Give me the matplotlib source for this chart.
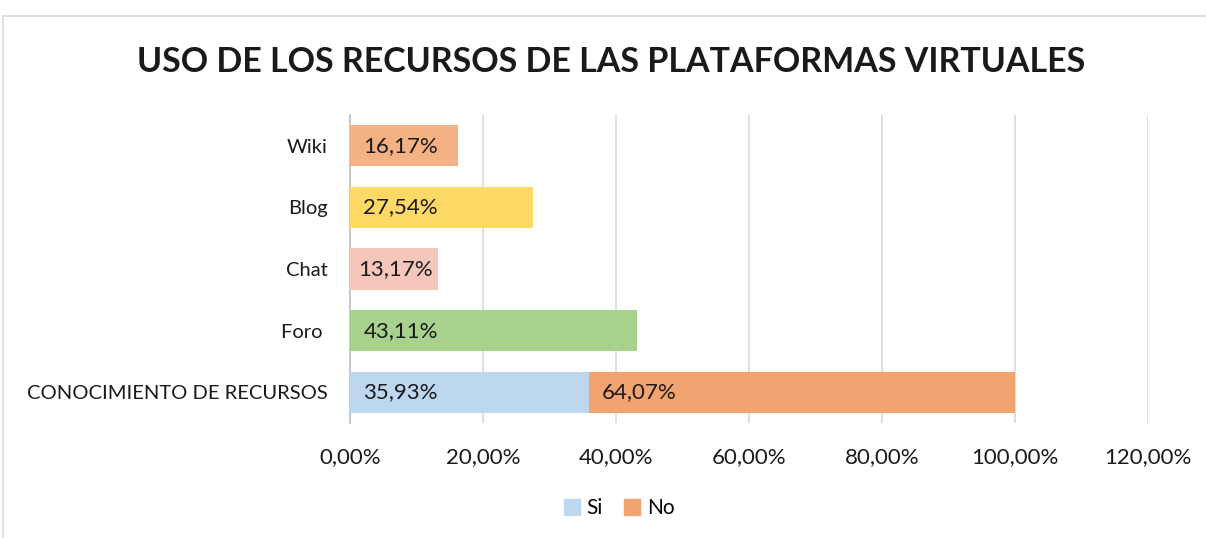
import numpy as np
import matplotlib; matplotlib.use('Agg')
import matplotlib.pyplot as plt
from matplotlib.patches import Rectangle
from matplotlib.ticker import FuncFormatter

plt.rcParams['font.family'] = ['Lato', 'DejaVu Sans']

# data (bottom -> top)
cats = ['CONOCIMIENTO DE RECURSOS', 'Foro ', 'Chat', 'Blog', 'Wiki']
si_vals = [35.93, 43.11, 13.17, 27.54, 16.17]
no_vals = [64.07, 0, 0, 0, 0]
si_cols = ['#BDD7EE', '#A9D18E', '#F5C7BA', '#FFD966', '#F4B183']
no_col = '#F1A46F'
si_lbl_col = '#BDD7EE'

fig = plt.figure(figsize=(12.06, 5.38), dpi=100)
fig.patch.set_facecolor('white')
# outer chart frame
fig.add_artist(Rectangle((3/1206, -0.01), 1.0, 1 - 16/538 + 0.01, transform=fig.transFigure,
                         fill=False, edgecolor='#D9D9D9', lw=1.2))

ax = fig.add_axes([350/1206, 1 - 423/538, (1148 - 350)/1206, (423 - 115)/538])
y = np.arange(len(cats))
h = 0.67
ax.barh(y, si_vals, h, color=si_cols, zorder=3)
ax.barh(y, no_vals, h, left=si_vals, color=no_col, zorder=3)

off = 2.0
for i, v in enumerate(si_vals):
    ax.text(off if v > 15 else 1.2, i, f'{v:.2f}%'.replace('.', ','), va='center', ha='left',
            fontsize=16, color='#1a1a1a', zorder=4)
for i, v in enumerate(no_vals):
    if v > 0:
        ax.text(si_vals[i] + off, i, f'{v:.2f}%'.replace('.', ','), va='center', ha='left',
                fontsize=16, color='#1a1a1a', zorder=4)

ax.set_xlim(0, 120)
ax.set_ylim(-0.5, 4.5)
ax.set_xticks(np.arange(0, 121, 20))
ax.xaxis.set_major_formatter(FuncFormatter(lambda v, p: f'{v:.2f}%'.replace('.', ',')))
ax.set_yticks(y)
ax.set_yticklabels(cats)
ax.tick_params(axis='x', length=0, labelsize=16, colors='#1a1a1a', pad=17)
ax.tick_params(axis='y', length=0, labelsize=14.5, colors='#1a1a1a', pad=16)
ax.grid(axis='x', color='#D9D9D9', lw=1.2, zorder=0)
for s in ['top', 'right', 'bottom']:
    ax.spines[s].set_visible(False)
ax.spines['left'].set_color('#BFBFBF')
ax.spines['left'].set_linewidth(1.2)

fig.text(611/1206, 1 - 62/538, 'USO DE LOS RECURSOS DE LAS PLATAFORMAS VIRTUALES',
         ha='center', va='center', fontsize=24.5, fontweight='bold', color='#1a1a1a')

# legend
h1 = Rectangle((0, 0), 1, 1, color=si_lbl_col)
h2 = Rectangle((0, 0), 1, 1, color=no_col)
fig.legend([h1, h2], ['Si', 'No'], loc='center', bbox_to_anchor=(619/1206, 1 - 508/538),
           ncol=2, frameon=False, fontsize=15, handlelength=0.8, handleheight=0.8,
           handletextpad=0.3, columnspacing=1.0)

fig.savefig('out.png', dpi=100, facecolor='white')
